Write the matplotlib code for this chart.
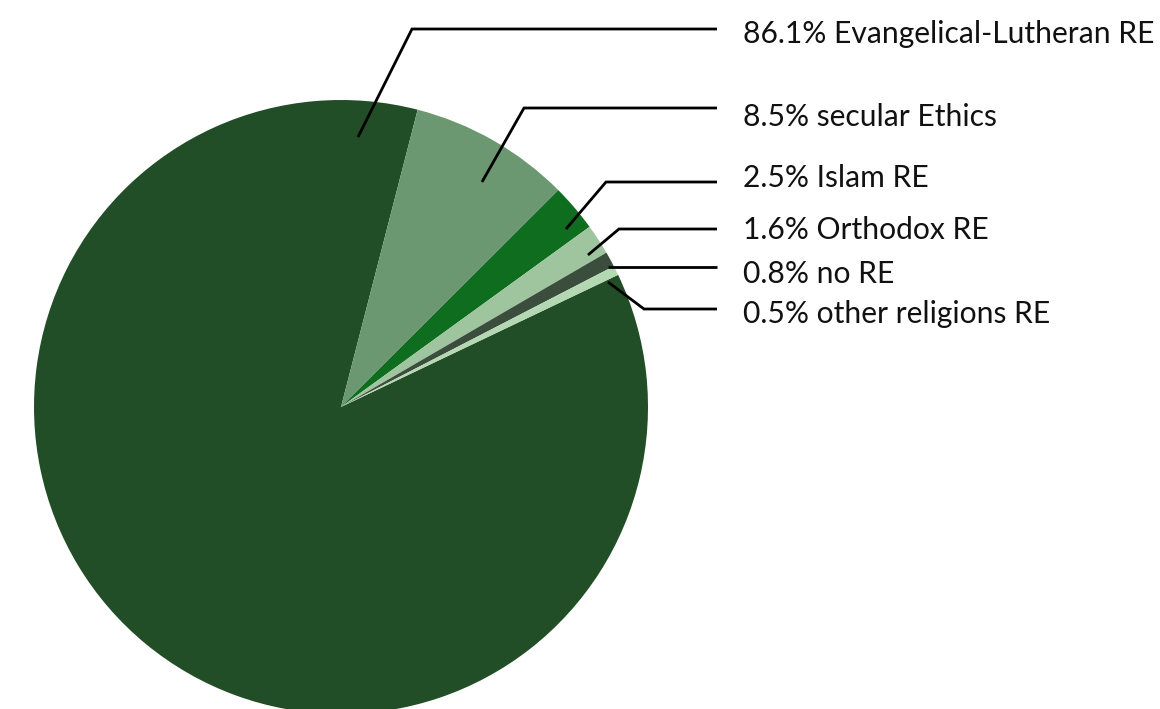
import matplotlib.pyplot as plt

## data
labels = ["Evangelical-Lutheran RE", "secular Ethics", "Islam RE",
          "Orthodox RE", "no RE", "other religions RE"]
shares = [86.1, 8.5, 2.5, 1.6, 0.8, 0.5]
colors = ["#214e27", "#6b9870", "#0f6d1f", "#9fc59f", "#3b4d3d", "#b4d8b1"]

## layout (pixel coords, y measured from top)
W, H = 1160, 709
cx, cy, rad = 341, 407, 307
# leader lines: inner point, elbow, end of horizontal
lead_in = [(358, 137), (482, 182), (566, 229), (588, 255), (608, 267), (608, 282)]
lead_elbow = [(412, 29), (524, 108), (606, 182), (619, 229), (608, 267), (644, 309)]
line_end = 717
text_x = 743
text_base = [43, 126, 187, 239, 283, 323]


def fy(y):
    # flip pixel y to axes y
    return H - y


fig = plt.figure(figsize=(W / 100, H / 100), dpi=100)
ax = fig.add_axes([0, 0, 1, 1])
ax.pie(shares, colors=colors, startangle=25.5, counterclock=False,
       center=(cx, fy(cy)), radius=rad, wedgeprops=dict(linewidth=0))
ax.set_xlim(0, W)
ax.set_ylim(0, H)
ax.set_aspect("equal")
ax.axis("off")

for lab, val, p0, p1, yb in zip(labels, shares, lead_in, lead_elbow, text_base):
    ax.plot([p0[0], p1[0], line_end], [fy(p0[1]), fy(p1[1]), fy(p1[1])],
            color="black", lw=2, solid_capstyle="butt", solid_joinstyle="miter")
    ax.text(text_x, fy(yb), f"{val}% {lab}", fontsize=21.6, family="Lato",
            ha="left", va="baseline", color="#111111")

fig.savefig("out.png", dpi=100)
